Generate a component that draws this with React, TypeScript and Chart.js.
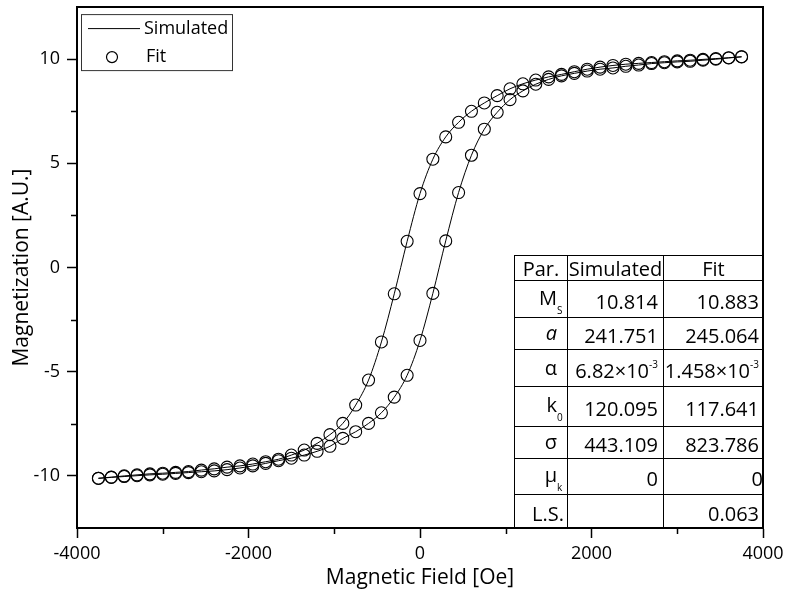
import React, { useEffect, useRef } from 'react';
import { Chart, registerables } from 'chart.js';

Chart.register(...registerables);

const FONT = 'Open Sans';

// Applied magnetic field (Oe)
const FIELD = [
  -3750, -3600, -3450, -3300, -3150, -3000, -2850, -2700, -2550, -2400,
  -2250, -2100, -1950, -1800, -1650, -1500, -1350, -1200, -1050, -900,
  -750, -600, -450, -300, -150, 0, 150, 300, 450, 600,
  750, 900, 1050, 1200, 1350, 1500, 1650, 1800, 1950, 2100,
  2250, 2400, 2550, 2700, 2850, 3000, 3150, 3300, 3450, 3600, 3750,
];

// Descending-field branch (upper)
const UPPER_BRANCH = [
  -10.11, -10.06, -10.0, -9.95, -9.9, -9.87, -9.83, -9.79, -9.72, -9.66,
  -9.58, -9.52, -9.43, -9.32, -9.2, -9.0, -8.76, -8.44, -8.02, -7.48,
  -6.6, -5.4, -3.57, -1.26, 1.26, 3.55, 5.2, 6.27, 6.97, 7.5,
  7.9, 8.25, 8.58, 8.82, 9.0, 9.15, 9.27, 9.4, 9.52, 9.62,
  9.7, 9.76, 9.8, 9.84, 9.88, 9.92, 9.95, 9.99, 10.03, 10.07, 10.12,
];

// Ascending-field branch (lower)
const LOWER_BRANCH = [
  -10.12, -10.07, -10.03, -9.99, -9.95, -9.92, -9.88, -9.84, -9.8, -9.76,
  -9.7, -9.62, -9.52, -9.4, -9.27, -9.15, -9.0, -8.82, -8.58, -8.2,
  -7.88, -7.48, -6.97, -6.22, -5.17, -3.5, -1.24, 1.28, 3.6, 5.39,
  6.64, 7.45, 8.06, 8.48, 8.8, 9.03, 9.2, 9.32, 9.43, 9.52,
  9.58, 9.66, 9.72, 9.79, 9.83, 9.87, 9.9, 9.95, 10.0, 10.06, 10.11,
];

const SERIES_LABELS = ['Simulated', 'Fit'];

const X_MAJOR = [-4000, -2000, 0, 2000, 4000];
const X_MINOR = [-3000, -1000, 1000, 3000];
const Y_MAJOR = [-10, -5, 0, 5, 10];
const Y_MINOR = [-7.5, -2.5, 2.5, 7.5];

const X_TITLE = 'Magnetic Field [Oe]';
const Y_TITLE = 'Magnetization [A.U.]';

// Parameter table
const TABLE_HEADER = ['Par.', 'Simulated', 'Fit'];
const PARAM_SYMBOL = ['M', 'a', 'α', 'k', 'σ', 'μ', 'L.S.'];
const PARAM_SUB = ['S', '', '', '0', '', 'k', ''];
const SIM_VALUE = ['10.814', '241.751', '6.82×10', '120.095', '443.109', '0', ''];
const SIM_SUP = ['', '', '-3', '', '', '', ''];
const FIT_VALUE = ['10.883', '245.064', '1.458×10', '117.641', '823.786', '0', '0.063'];
const FIT_SUP = ['', '', '-3', '', '', '', ''];

const ROW_HEIGHTS = [25, 37, 31, 37, 40, 32, 36, 34];

const overlayPlugin = {
  id: 'overlay',
  afterDraw(chart: any) {
    const { ctx, chartArea: a, scales } = chart;
    ctx.save();
    ctx.strokeStyle = '#000';
    // frame top + right
    ctx.lineWidth = 2;
    ctx.beginPath();
    ctx.moveTo(a.left - 1, a.top);
    ctx.lineTo(a.right, a.top);
    ctx.lineTo(a.right, a.bottom + 1);
    ctx.stroke();
    // minor ticks
    ctx.lineWidth = 1.5;
    ctx.beginPath();
    X_MINOR.forEach((v) => {
      const px = Math.round(scales.x.getPixelForValue(v)) + 0.5;
      ctx.moveTo(px, a.bottom);
      ctx.lineTo(px, a.bottom + 6);
    });
    Y_MINOR.forEach((v) => {
      const py = Math.round(scales.y.getPixelForValue(v)) + 0.5;
      ctx.moveTo(a.left, py);
      ctx.lineTo(a.left - 6, py);
    });
    ctx.stroke();

    // legend box
    const bx = a.left + 4;
    const by = a.top + 7;
    ctx.lineWidth = 1;
    ctx.strokeStyle = '#333';
    ctx.strokeRect(bx + 0.5, by + 0.5, 151, 56);
    ctx.strokeStyle = '#000';
    ctx.beginPath();
    ctx.moveTo(bx + 7, by + 14.5);
    ctx.lineTo(bx + 59, by + 14.5);
    ctx.stroke();
    ctx.lineWidth = 1.2;
    ctx.beginPath();
    ctx.arc(bx + 31, by + 43, 5.5, 0, Math.PI * 2);
    ctx.stroke();
    ctx.fillStyle = '#000';
    ctx.font = `18px "${FONT}"`;
    ctx.textBaseline = 'middle';
    ctx.textAlign = 'left';
    ctx.fillText(SERIES_LABELS[0], bx + 63, by + 15);
    ctx.fillText(SERIES_LABELS[1], bx + 65, by + 43);
    ctx.restore();
  },
};

function ParamTable() {
  const cellBase: React.CSSProperties = {
    border: '1px solid #000',
    padding: 0,
    whiteSpace: 'nowrap',
    verticalAlign: 'middle',
    overflow: 'visible',
  };
  return (
    <div style={{ position: 'absolute', left: 514, top: 255, width: 249, height: 272 }}>
      <table
        style={{
          borderCollapse: 'collapse',
          tableLayout: 'fixed',
          width: 249,
          height: 272,
          fontFamily: FONT,
          fontSize: 20,
          color: '#000',
          lineHeight: 1.05,
        }}
      >
        <colgroup>
          <col style={{ width: 53 }} />
          <col style={{ width: 96 }} />
          <col style={{ width: 100 }} />
        </colgroup>
        <tbody>
          <tr style={{ height: ROW_HEIGHTS[0] }}>
            {TABLE_HEADER.map((h, i) => (
              <td key={i} style={{ ...cellBase, textAlign: 'center' }}>{h}</td>
            ))}
          </tr>
          {PARAM_SYMBOL.map((sym, r) => (
            <tr key={r} style={{ height: ROW_HEIGHTS[r + 1] }}>
              <td style={{ ...cellBase, textAlign: 'right', paddingRight: sym.length > 2 ? 3 : 1, paddingTop: 4 }}>
                <span style={{ fontStyle: sym === 'a' ? 'italic' : 'normal' }}>{sym}</span>
                {sym.length <= 2 && (
                  <span
                    style={{
                      display: 'inline-block',
                      width: 9,
                      fontSize: 10,
                      verticalAlign: -9,
                      textAlign: 'left',
                    }}
                  >
                    {PARAM_SUB[r]}
                  </span>
                )}
              </td>
              <td style={{ ...cellBase, textAlign: 'right', paddingRight: 5, paddingTop: 4 }}>
                {SIM_VALUE[r]}
                {SIM_SUP[r] && <span style={{ fontSize: 10, verticalAlign: 10 }}>{SIM_SUP[r]}</span>}
              </td>
              <td style={{ ...cellBase, textAlign: 'right', paddingRight: r === 5 ? 0 : 4, paddingTop: 4 }}>
                {FIT_VALUE[r]}
                {FIT_SUP[r] && <span style={{ fontSize: 10, verticalAlign: 10 }}>{FIT_SUP[r]}</span>}
              </td>
            </tr>
          ))}
        </tbody>
      </table>
    </div>
  );
}

export default function App() {
  const canvasRef = useRef<HTMLCanvasElement | null>(null);

  useEffect(() => {
    document.body.style.margin = '0';
    const canvas = canvasRef.current;
    if (!canvas) return;
    const upper = FIELD.map((h, i) => ({ x: h, y: UPPER_BRANCH[i] }));
    const lower = FIELD.map((h, i) => ({ x: h, y: LOWER_BRANCH[i] }));

    const tickFont = { family: FONT, size: 18 };
    const titleFont = { family: FONT, size: 21 };

    const chart = new Chart(canvas, {
      type: 'scatter',
      data: {
        datasets: [
          {
            label: SERIES_LABELS[0],
            data: upper,
            showLine: true,
            borderColor: '#000',
            borderWidth: 1,
            pointRadius: 0,
            cubicInterpolationMode: 'monotone',
          },
          {
            label: SERIES_LABELS[0],
            data: lower,
            showLine: true,
            borderColor: '#000',
            borderWidth: 1,
            pointRadius: 0,
            cubicInterpolationMode: 'monotone',
          },
          {
            label: SERIES_LABELS[1],
            data: [...upper, ...lower],
            showLine: false,
            pointRadius: 6,
            pointBorderWidth: 1.1,
            pointBorderColor: '#000',
            pointBackgroundColor: 'rgba(0,0,0,0)',
          },
        ],
      },
      options: {
        responsive: false,
        animation: false,
        events: [],
        layout: { padding: { left: 0, top: 6, right: 22, bottom: 0 } },
        plugins: { legend: { display: false }, tooltip: { enabled: false } },
        scales: {
          x: {
            type: 'linear',
            min: -4000,
            max: 4000,
            afterBuildTicks: (s: any) => {
              s.ticks = X_MAJOR.map((v) => ({ value: v }));
            },
            afterFit: (s: any) => {
              s.height = 67;
              s.paddingLeft = 0;
              s.paddingRight = 0;
            },
            ticks: {
              font: tickFont,
              color: '#000',
              padding: 5,
              maxRotation: 0,
              autoSkip: false,
              callback: (v: any) => String(v),
            },
            grid: {
              display: true,
              drawOnChartArea: false,
              drawTicks: true,
              tickLength: 10,
              tickColor: '#000',
              tickWidth: 1.5,
            },
            border: { display: true, color: '#000', width: 2 },
            title: {
              display: true,
              text: X_TITLE,
              font: titleFont,
              color: '#000',
              padding: { top: 0, bottom: 4 },
            },
          },
          y: {
            type: 'linear',
            min: -12.5,
            max: 12.5,
            afterBuildTicks: (s: any) => {
              s.ticks = Y_MAJOR.map((v) => ({ value: v }));
            },
            afterFit: (s: any) => {
              s.width = 77;
              s.paddingTop = 0;
              s.paddingBottom = 0;
            },
            ticks: {
              font: tickFont,
              color: '#000',
              padding: 7,
              autoSkip: false,
              callback: (v: any) => String(v),
            },
            grid: {
              display: true,
              drawOnChartArea: false,
              drawTicks: true,
              tickLength: 10,
              tickColor: '#000',
              tickWidth: 1.5,
            },
            border: { display: true, color: '#000', width: 2 },
            title: {
              display: true,
              text: Y_TITLE,
              font: titleFont,
              color: '#000',
              padding: { top: 9, bottom: 0 },
            },
          },
        },
      } as any,
      plugins: [overlayPlugin],
    });
    return () => chart.destroy();
  }, []);

  return (
    <div style={{ position: 'relative', width: 785, height: 595, background: '#fff' }}>
      <canvas ref={canvasRef} width={785} height={595} style={{ display: 'block' }} />
      <ParamTable />
    </div>
  );
}
